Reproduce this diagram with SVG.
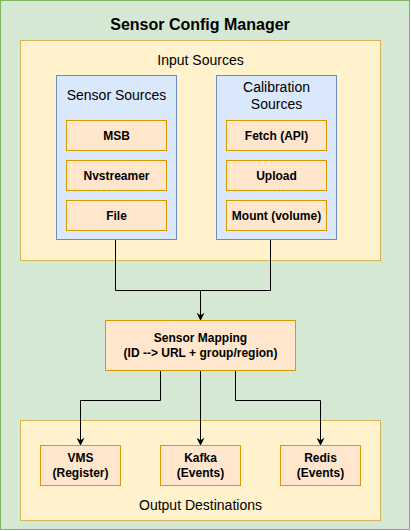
<svg xmlns="http://www.w3.org/2000/svg" width="411" height="531" viewBox="0 0 411 531">
<defs>
<style>
text{font-family:"Liberation Sans",Arial,Helvetica,sans-serif;fill:#000;text-anchor:middle}
.b{font-weight:bold;font-size:12px}
.lbl{font-size:14px}
.item{fill:#ffe6cc;stroke:#d79b00;stroke-width:1}
.grp{fill:#dae8fc;stroke:#6c8ebf;stroke-width:1}
.sec{fill:#fff2cc;stroke:#d6b656;stroke-width:1}
.edge{fill:none;stroke:#000;stroke-width:1}
</style>
<marker id="arr" viewBox="0 0 10 10" refX="9" refY="5" markerWidth="8" markerHeight="8" markerUnits="userSpaceOnUse" orient="auto">
<path d="M0,0 L10,5 L0,10 L3,5 Z" fill="#000"/>
</marker>
</defs>
<g id="container">
<rect x="0.5" y="0.5" width="409" height="529" fill="#d5e8d4" stroke="#82b366"/>
<text x="200" y="30" style="font-weight:bold;font-size:16px">Sensor Config Manager</text>
</g>
<g id="input-sources">
<rect class="sec" x="20.5" y="40.5" width="360" height="220"/>
<text class="lbl" x="200.5" y="65">Input Sources</text>
</g>
<g id="sensor-sources">
<rect class="grp" x="56.5" y="75.5" width="120" height="164"/>
<text class="lbl" x="116.5" y="100">Sensor Sources</text>
</g>
<g id="calibration-sources">
<rect class="grp" x="216.5" y="75.5" width="120" height="164"/>
<text class="lbl" x="276.5" y="92">Calibration</text>
<text class="lbl" x="276.5" y="109">Sources</text>
</g>
<g id="msb"><rect class="item" x="66.5" y="120.5" width="100" height="30"/><text class="b" x="116.5" y="140">MSB</text></g>
<g id="nvstreamer"><rect class="item" x="66.5" y="160.5" width="100" height="30"/><text class="b" x="116.5" y="180">Nvstreamer</text></g>
<g id="file"><rect class="item" x="66.5" y="200.5" width="100" height="30"/><text class="b" x="116.5" y="220">File</text></g>
<g id="fetch"><rect class="item" x="226.5" y="120.5" width="100" height="30"/><text class="b" x="276.5" y="140">Fetch (API)</text></g>
<g id="upload"><rect class="item" x="226.5" y="160.5" width="100" height="30"/><text class="b" x="276.5" y="180">Upload</text></g>
<g id="mount"><rect class="item" x="226.5" y="200.5" width="100" height="30"/><text class="b" x="276.5" y="220">Mount (volume)</text></g>
<g id="output-destinations">
<rect class="sec" x="20.5" y="420.5" width="360" height="100"/>
<text class="lbl" x="200.5" y="510">Output Destinations</text>
</g>
<g id="connectors">
<path class="edge" d="M115.5,240 V290.5 H270.5 V240"/>
<path class="edge" d="M200.5,290.5 V320" marker-end="url(#arr)"/>
<path class="edge" d="M160.5,370.5 V400.5 H80.5 V445" marker-end="url(#arr)"/>
<path class="edge" d="M200.5,370.5 V445" marker-end="url(#arr)"/>
<path class="edge" d="M235.5,370.5 V400.5 H320.5 V445" marker-end="url(#arr)"/>
</g>
<g id="sensor-mapping">
<rect class="item" x="105.5" y="320.5" width="190" height="50"/>
<text class="b" x="200.5" y="342">Sensor Mapping</text>
<text class="b" x="200.5" y="357">(ID --&gt; URL + group/region)</text>
</g>
<g id="vms"><rect class="item" x="40.5" y="445.5" width="80" height="40"/><text class="b" x="80.5" y="462">VMS</text><text class="b" x="80.5" y="477">(Register)</text></g>
<g id="kafka"><rect class="item" x="160.5" y="445.5" width="80" height="40"/><text class="b" x="200.5" y="462">Kafka</text><text class="b" x="200.5" y="477">(Events)</text></g>
<g id="redis"><rect class="item" x="280.5" y="445.5" width="80" height="40"/><text class="b" x="320.5" y="462">Redis</text><text class="b" x="320.5" y="477">(Events)</text></g>
</svg>
